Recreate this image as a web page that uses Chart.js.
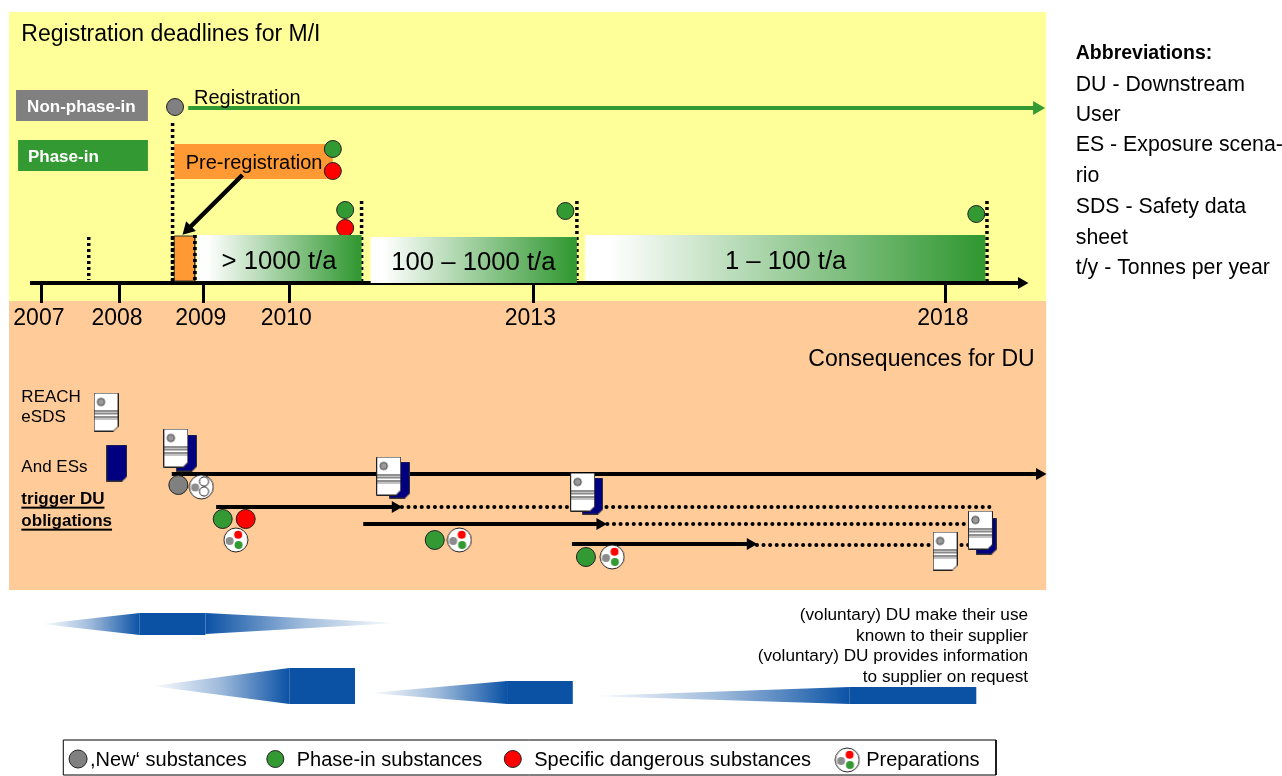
<!DOCTYPE html>
<html>
<head>
<meta charset="utf-8">
<title>Registration deadlines for M/I</title>
<script src="https://cdn.jsdelivr.net/npm/chart.js@4"></script>
<style>
    html, body { margin: 0; padding: 0; background: #fff; }
    canvas { display: block; }
</style>
</head>
<body>
<canvas id="chart" width="1282" height="776"></canvas>
<script>
// x values are years on the timeline, y values are rows of the diagram
const tickYears = [2007.00, 2007.95, 2008.97, 2010.01, 2012.98, 2018.00];
const tickLabels = ['2007', '2008', '2009', '2010', '2013', '2018'];

const panelYears = [2006.60, 2019.22];
const yellowRows = [12, 301];
const peachRows = [301, 590];

const bandStarts = [2008.89, 2011.00, 2013.61];
const bandEnds = [2010.89, 2013.51, 2018.48];
const bandTops = [235, 237, 235];
const bandBottoms = [281, 283, 281];
const bandLabels = ['> 1000 t/a', '100 \u2013 1000 t/a', '1 \u2013 100 t/a'];

const deadlineYears = [2007.57, 2008.59, 2008.86, 2010.89, 2013.51, 2018.50];
const deadlineTops = [237, 123, 235, 201, 201, 201];
const deadlineBottoms = [280, 281, 281, 281, 280, 282];

const greenYears = [2010.54, 2010.69, 2013.37, 2018.37, 2009.20, 2011.78, 2013.62, 2009.84];
const greenRows = [149, 210, 211, 214, 519, 540, 557, 759];
const redYears = [2010.54, 2010.69, 2009.48, 2012.73];
const redRows = [171, 228, 519, 759];
const greyYears = [2008.62, 2008.66, 2007.44];
const greyRows = [107, 485, 759];
const prepYears = [2009.36, 2012.08, 2013.94, 2016.80];
const prepRows = [540, 540, 557, 760];

const sheetYears = [2007.78, 2008.63, 2011.22, 2013.58, 2018.42, 2017.99];
const sheetRows = [412, 448, 476, 492, 530, 551];
const scenarioYears = [2007.91, 2008.76, 2011.35, 2013.70, 2018.49];
const scenarioRows = [463, 453, 480, 496, 536];

const obligationStarts = [2008.58, 2009.12, 2010.91, 2013.45];
const obligationEnds = [2019.14, 2011.30, 2013.79, 2015.62];
const obligationRows = [474, 507, 524, 544];
const dottedStarts = [2011.38, 2013.88, 2015.70];
const dottedEnds = [2018.54, 2018.27, 2018.27];
const dottedRows = [507, 524, 545];

const blockStarts = [2008.19, 2010.01, 2012.66, 2016.83];
const blockEnds = [2008.99, 2010.81, 2013.46, 2018.37];
const blockTops = [613, 668, 681, 687];
const blockBottoms = [635, 704, 704, 704];
const wedgeTipYears = [2007.00, 2008.34, 2010.99, 2013.67, 2011.32];
const wedgeBaseYears = [2008.19, 2010.01, 2012.66, 2016.83, 2008.99];
const wedgeTipRows = [624, 686, 693, 696, 623];
const wedgeTops = [613, 668, 681, 687, 613];
const wedgeBottoms = [635, 704, 704, 704, 634];

const legendBox = [2007.26, 2018.61, 740, 775];
const legendLabels = [',New\u2018 substances', 'Phase-in substances', 'Specific dangerous substances', 'Preparations'];
const legendYears = [2007.585, 2010.10, 2012.99, 2017.03];

const GREEN = '#339933';
const ORANGE = '#FF9933';
const BLUE = '#0B52A5';
const FONT = '"Liberation Sans", Arial, sans-serif';

function makeIcon(w, h, paint) {
    const c = document.createElement('canvas');
    c.width = w;
    c.height = h;
    paint(c.getContext('2d'));
    return c;
}

function dot(g, x, y, r, fill, stroke) {
    g.beginPath();
    g.arc(x, y, r, 0, Math.PI * 2);
    g.fillStyle = fill;
    g.fill();
    if (stroke) {
        g.strokeStyle = stroke;
        g.lineWidth = 1;
        g.stroke();
    }
}

function pagePath(g, w, h) {
    g.beginPath();
    g.moveTo(0.5, 0.5);
    g.lineTo(w - 0.5, 0.5);
    g.lineTo(w - 0.5, h - 5);
    g.lineTo(w - 5, h - 0.5);
    g.lineTo(0.5, h - 0.5);
    g.closePath();
}

const sheetIcon = makeIcon(25, 39, g => {
    pagePath(g, 25, 39);
    g.fillStyle = '#fff';
    g.fill();
    g.strokeStyle = '#222';
    g.lineWidth = 1;
    g.stroke();
    dot(g, 7.5, 9.5, 3.7, '#999', '#444');
    g.fillStyle = '#222';
    g.fillRect(1, 18, 23, 1);
    g.fillRect(1, 24, 23, 1);
    g.fillStyle = '#888';
    g.fillRect(1, 20, 23, 2);
    g.fillRect(1, 26, 23, 1);
});

const scenarioIcon = makeIcon(21, 37, g => {
    pagePath(g, 21, 37);
    g.fillStyle = '#000080';
    g.fill();
    g.strokeStyle = '#333';
    g.lineWidth = 1;
    g.stroke();
});

const prepIcon = makeIcon(26, 26, g => {
    dot(g, 13, 13, 12, '#fff', '#222');
    dot(g, 6.8, 14, 4, '#8c8c8c');
    dot(g, 15.3, 7.7, 4, '#ff0000');
    dot(g, 15.7, 18, 4, GREEN);
});

const emptyPrepIcon = makeIcon(26, 26, g => {
    dot(g, 13, 13, 12, '#fff', '#222');
    dot(g, 6.8, 13.5, 4, '#8c8c8c');
    dot(g, 15.7, 7.5, 4.6, '#fff', '#222');
    dot(g, 15.7, 17.5, 4.6, '#fff', '#222');
});

function corners(x0, x1, y0, y1) {
    return [{x: x0, y: y0}, {x: x1, y: y0}, {x: x1, y: y1}, {x: x0, y: y1}, {x: x0, y: y0}];
}

function sideFade(stops, x0, x1) {
    return ctx => {
        const scale = ctx.chart.scales.x;
        const p0 = scale ? scale.getPixelForValue(x0) : NaN;
        const p1 = scale ? scale.getPixelForValue(x1) : NaN;
        // scales have no size yet on the first pass
        if (!isFinite(p0) || !isFinite(p1)) return stops[stops.length - 1][1];
        const grad = ctx.chart.ctx.createLinearGradient(p0, 0, p1, 0);
        stops.forEach(s => grad.addColorStop(s[0], s[1]));
        return grad;
    };
}

function shape(points, fill, stroke) {
    return {
        data: points,
        backgroundColor: fill,
        borderColor: stroke || 'transparent',
        borderWidth: stroke ? 1 : 0,
        fill: 'shape',
        pointRadius: 0
    };
}

function line(x0, x1, y0, y1, color, width, dash, cap) {
    return {
        data: [{x: x0, y: y0}, {x: x1, y: y1}],
        borderColor: color,
        borderWidth: width,
        borderDash: dash || [],
        borderCapStyle: cap || 'butt',
        fill: false,
        pointRadius: 0
    };
}

function arrow(x0, x1, y0, y1, color, width, size, rotation) {
    const d = line(x0, x1, y0, y1, color, width);
    d.pointRadius = [0, size];
    d.pointStyle = 'triangle';
    d.pointRotation = rotation;
    d.pointBackgroundColor = color;
    d.pointBorderColor = color;
    d.pointBorderWidth = 0;
    return d;
}

function marks(xs, ys, style, radius, color) {
    return {
        data: xs.map((x, i) => ({x: x, y: ys[i]})),
        showLine: false,
        pointStyle: style,
        pointRadius: radius,
        pointBackgroundColor: color || 'transparent',
        pointBorderColor: '#222',
        pointBorderWidth: color ? 1 : 0
    };
}

// painted bottom to top
const datasets = [];
datasets.push(shape(corners(panelYears[0], panelYears[1], yellowRows[0], yellowRows[1]), '#FFFF99'));
datasets.push(shape(corners(panelYears[0], panelYears[1], peachRows[0], peachRows[1]), '#FFCC99'));

datasets.push(shape(corners(2006.685, 2008.29, 90, 121), '#808080'));
datasets.push(shape(corners(2006.71, 2008.29, 140, 171), GREEN));
datasets.push(shape(corners(2008.61, 2010.54, 144, 179), ORANGE));
datasets.push(arrow(2008.78, 2019.11, 108, 108, GREEN, 4, 8, 90));

datasets.push(marks(greenYears.slice(0, 4), greenRows.slice(0, 4), 'circle', 8.5, GREEN));
datasets.push(marks(redYears.slice(0, 2), redRows.slice(0, 2), 'circle', 8.5, '#FF0000'));
datasets.push(marks(greyYears.slice(0, 1), greyRows.slice(0, 1), 'circle', 8.5, '#808080'));

deadlineYears.forEach((x, i) => {
    datasets.push(line(x, x, deadlineTops[i], deadlineBottoms[i], '#000', 3.5, [3, 3]));
});

datasets.push(arrow(2006.855, 2018.92, 283, 283, '#000', 4, 7, 90));

bandStarts.forEach((x, i) => {
    const fade = sideFade([[0, '#ffffff'], [0.06, '#ffffff'], [0.98, GREEN], [1, GREEN]], x, bandEnds[i]);
    datasets.push(shape(corners(x, bandEnds[i], bandTops[i], bandBottoms[i]), fade));
});
datasets.push(shape(corners(2008.61, 2008.86, 236, 281), ORANGE, '#333'));
datasets.push(line(2008.59, 2008.59, 236, 281, '#000', 3.5, [3, 3]));
datasets.push(line(2008.86, 2008.86, 235, 281, '#000', 3.5, [3, 3]));
datasets.push(arrow(2009.44, 2008.78, 175, 229, '#000', 4.5, 8, 225));

obligationStarts.forEach((x, i) => {
    datasets.push(arrow(x, obligationEnds[i], obligationRows[i], obligationRows[i], '#000', 4, 7, 90));
});
dottedStarts.forEach((x, i) => {
    datasets.push(line(x, dottedEnds[i], dottedRows[i], dottedRows[i], '#000', 4, [0.1, 6.5], 'round'));
});
datasets.push(marks(scenarioYears, scenarioRows, scenarioIcon, 1));
datasets.push(marks(sheetYears, sheetRows, sheetIcon, 1));

datasets.push(marks(greenYears.slice(4, 7), greenRows.slice(4, 7), 'circle', 9.5, GREEN));
datasets.push(marks(redYears.slice(2, 3), redRows.slice(2, 3), 'circle', 9.5, '#FF0000'));
datasets.push(marks(greyYears.slice(1, 2), greyRows.slice(1, 2), 'circle', 9.5, '#808080'));
datasets.push(marks(prepYears.slice(0, 3), prepRows.slice(0, 3), prepIcon, 1));
datasets.push(marks([2008.94], [487], emptyPrepIcon, 1));

wedgeTipYears.forEach((x, i) => {
    const base = wedgeBaseYears[i];
    const pts = [{x: x, y: wedgeTipRows[i]}, {x: base, y: wedgeTops[i]}, {x: base, y: wedgeBottoms[i]}, {x: x, y: wedgeTipRows[i]}];
    datasets.push(shape(pts, sideFade([[0, 'rgba(11,82,165,0)'], [0.5, 'rgba(11,82,165,0.4)'], [1, BLUE]], x, base)));
});
blockStarts.forEach((x, i) => {
    datasets.push(shape(corners(x, blockEnds[i], blockTops[i], blockBottoms[i]), BLUE));
});

datasets.push(shape(corners(legendBox[0], legendBox[1], legendBox[2], legendBox[3]), '#ffffff', '#000'));
datasets.push(marks(greyYears.slice(2), greyRows.slice(2), 'circle', 9, '#808080'));
datasets.push(marks(greenYears.slice(7), greenRows.slice(7), 'circle', 8.5, GREEN));
datasets.push(marks(redYears.slice(3), redRows.slice(3), 'circle', 8.5, '#FF0000'));
datasets.push(marks(prepYears.slice(3), prepRows.slice(3), prepIcon, 1));

datasets.forEach((d, i) => { d.order = datasets.length - i; });

const notes = [
    {t: 'Registration deadlines for M/I', x: 2006.75, y: 34.5, size: 23},
    {t: 'Non-phase-in', x: 2006.82, y: 107, size: 17, weight: 'bold', color: '#fff'},
    {t: 'Phase-in', x: 2006.83, y: 157, size: 17, weight: 'bold', color: '#fff'},
    {t: 'Registration', x: 2008.85, y: 98.5, size: 20},
    {t: 'Pre-registration', x: 2008.75, y: 163.5, size: 20},
    {t: bandLabels[0], x: 2009.885, y: 261.5, size: 25.7, align: 'center'},
    {t: bandLabels[1], x: 2012.25, y: 262.5, size: 25.7, align: 'center'},
    {t: bandLabels[2], x: 2016.05, y: 261.5, size: 25.7, align: 'center'},
    {t: 'Consequences for DU', x: 2019.08, y: 359.5, size: 23, align: 'right'},
    {t: 'REACH', x: 2006.75, y: 397, size: 17},
    {t: 'eSDS', x: 2006.75, y: 417, size: 17},
    {t: 'And ESs', x: 2006.75, y: 467, size: 17},
    {t: 'trigger DU', x: 2006.75, y: 499, size: 17, weight: 'bold', underline: true},
    {t: 'obligations', x: 2006.75, y: 521, size: 17, weight: 'bold', underline: true},
    {t: '(voluntary) DU make their use', x: 2019.00, y: 615, size: 17.2, align: 'right'},
    {t: 'known to their supplier', x: 2019.00, y: 636, size: 17.2, align: 'right'},
    {t: '(voluntary) DU provides information', x: 2019.00, y: 656, size: 17.2, align: 'right'},
    {t: 'to supplier on request', x: 2019.00, y: 677, size: 17.2, align: 'right'},
    {t: 'Abbreviations:', x: 2019.58, y: 54, size: 19.5, weight: 'bold'},
    {t: 'DU - Downstream', x: 2019.58, y: 85, size: 21.3},
    {t: 'User', x: 2019.58, y: 115, size: 21.3},
    {t: 'ES - Exposure scena-', x: 2019.58, y: 145, size: 21.3},
    {t: 'rio', x: 2019.58, y: 176, size: 21.3},
    {t: 'SDS - Safety data', x: 2019.58, y: 207, size: 21.3},
    {t: 'sheet', x: 2019.58, y: 238, size: 21.3},
    {t: 't/y - Tonnes per year', x: 2019.58, y: 268, size: 21.3}
];
legendLabels.forEach((t, i) => {
    notes.push({t: t, x: legendYears[i], y: 760, size: 20});
});

const notesPlugin = {
    id: 'notes',
    afterDatasetsDraw(chart) {
        const g = chart.ctx;
        const {x: xs, y: ys} = chart.scales;
        g.save();
        g.textBaseline = 'middle';
        notes.forEach(n => {
            const px = xs.getPixelForValue(n.x);
            const py = ys.getPixelForValue(n.y);
            g.font = `${n.weight || 'normal'} ${n.size}px ${FONT}`;
            g.textAlign = n.align || 'left';
            g.fillStyle = n.color || '#000';
            g.fillText(n.t, px, py);
            if (n.underline) {
                g.fillRect(px, py + n.size * 0.45, g.measureText(n.t).width, 2);
            }
        });
        g.restore();
    }
};

new Chart(document.getElementById('chart'), {
    type: 'line',
    data: {datasets: datasets},
    plugins: [notesPlugin],
    options: {
        responsive: false,
        animation: false,
        events: [],
        layout: {padding: 0, autoPadding: false},
        elements: {line: {tension: 0}},
        plugins: {legend: {display: false}, tooltip: {enabled: false}},
        scales: {
            x: {
                type: 'linear',
                min: 2006.49,
                max: 2022.09,
                position: {y: 283},
                afterBuildTicks: axis => { axis.ticks = tickYears.map(v => ({value: v})); },
                grid: {drawOnChartArea: false, tickLength: 20, tickColor: '#000', tickWidth: 3, z: 1},
                border: {display: false},
                ticks: {
                    z: 1,
                    autoSkip: false,
                    maxRotation: 0,
                    padding: 2,
                    labelOffset: -3,
                    color: '#000',
                    font: {family: FONT, size: 23},
                    callback: (v, i) => tickLabels[i]
                }
            },
            y: {type: 'linear', display: false, min: 0, max: 776, reverse: true}
        }
    }
});
</script>
</body>
</html>
